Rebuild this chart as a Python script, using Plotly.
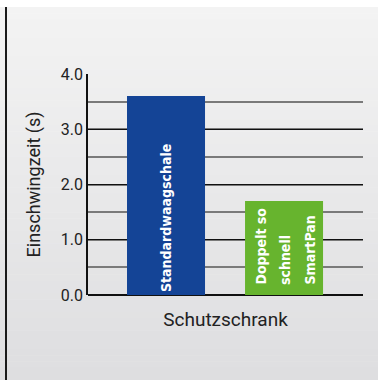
import plotly.graph_objects as go

# ---- data ----
categories = ["Standardwaagschale", "SmartPan"]
values = [3.6, 1.7]
blue_label = "Standardwaagschale"
green_label_lines = ["Doppelt so", "schnell", "SmartPan"]
bar_colors = ["#144496", "#67b42e"]
y_ticks = [0, 1, 2, 3, 4]
y_tick_labels = ["0.0", "1.0", "2.0", "3.0", "4.0"]
y_title = "Einschwingzeit (s)"
x_title = "Schutzschrank"

W, H = 378, 380
L, R, T, B = 88, 15, 74, 85
PW, PH = W - L - R, H - T - B

BAR_FONT = dict(family="DejaVu Sans Condensed", size=14, color="white", weight="bold")


def px_to_paper_x(px):
    return (px - L) / PW


def px_to_paper_y(py):
    return (H - B - py) / PH


fig = go.Figure()
fig.add_trace(go.Bar(
    x=categories,
    y=values,
    width=0.661,
    marker=dict(color=bar_colors, line=dict(width=0)),
    text=[blue_label, ""],
    textposition="inside",
    insidetextanchor="start",
    textangle=-90,
    textfont=BAR_FONT,
    hoverinfo="skip",
))

# green bar label: three rotated lines with wide spacing
annotations = []
for line_text, shift in zip(green_label_lines, [-24, 1, 25]):
    annotations.append(dict(
        x=categories[1], y=0, xref="x", yref="y",
        text=line_text, textangle=-90, showarrow=False,
        xanchor="center", yanchor="bottom", xshift=shift, yshift=8,
        font=BAR_FONT,
    ))

# background gradient (white -> light grey) as stacked rectangles
shapes = []
top_px = 7
n = 60
c0 = (243, 243, 243)
c1 = (222, 222, 224)
for i in range(n):
    y0 = top_px + (H - top_px) * i / n
    y1 = top_px + (H - top_px) * (i + 1) / n + 0.5
    t = i / (n - 1)
    c = tuple(int(round(c0[k] + (c1[k] - c0[k]) * t)) for k in range(3))
    shapes.append(dict(
        type="rect", xref="paper", yref="paper", layer="below",
        x0=px_to_paper_x(0), x1=px_to_paper_x(W),
        y0=px_to_paper_y(y1), y1=px_to_paper_y(y0),
        fillcolor="rgb(%d,%d,%d)" % c, line=dict(width=0),
    ))
# left border line
shapes.append(dict(
    type="line", xref="paper", yref="paper", layer="above",
    x0=px_to_paper_x(6), x1=px_to_paper_x(6),
    y0=px_to_paper_y(7), y1=px_to_paper_y(H),
    line=dict(color="#1a1a1a", width=2),
))

fig.update_layout(
    width=W, height=H,
    margin=dict(l=L, r=R, t=T, b=B),
    paper_bgcolor="white",
    plot_bgcolor="rgba(0,0,0,0)",
    showlegend=False,
    shapes=shapes,
    annotations=annotations,
    font=dict(family="Roboto", color="#222222"),
    xaxis=dict(
        type="category",
        range=[-0.661, 1.669],
        showticklabels=False,
        showgrid=False,
        zeroline=False,
        showline=False,
        ticks="",
        title=dict(text=x_title, font=dict(size=19, color="#222222"), standoff=17),
        fixedrange=True,
    ),
    yaxis=dict(
        range=[0, 4.0],
        tickvals=y_ticks,
        ticktext=y_tick_labels,
        tickfont=dict(size=16, color="#222222"),
        showgrid=True,
        gridcolor="#111111",
        gridwidth=1,
        minor=dict(dtick=0.5, showgrid=True, gridcolor="#7a7a7a", gridwidth=1.5),
        zeroline=True,
        zerolinecolor="#111111",
        zerolinewidth=1.5,
        showline=True,
        linecolor="#111111",
        linewidth=1.5,
        ticks="",
        ticklen=0,
        title=dict(text=y_title, font=dict(size=18, color="#222222"), standoff=16),
        fixedrange=True,
    ),
)

fig.write_html("out.html")
